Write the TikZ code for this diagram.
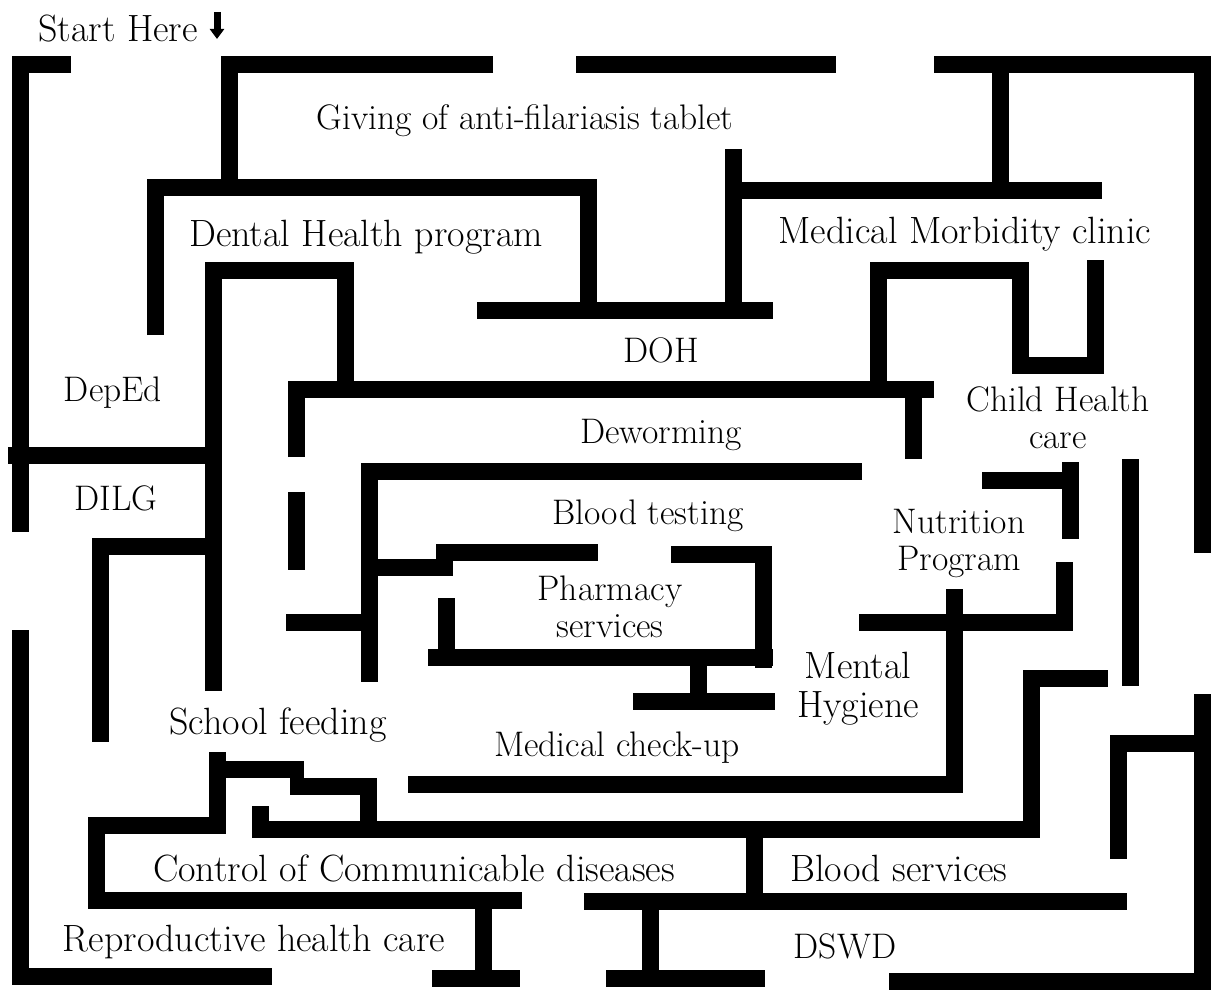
\documentclass[tikz,border=0pt]{standalone}
\usetikzlibrary{arrows.meta}

\begin{document}
\begin{tikzpicture}[x=1pt, y=-1pt,
  wall/.style={line width=17pt, line cap=butt, line join=miter},
  lbl/.style={font=\fontsize{35.5}{37}\selectfont, inner sep=0pt, text height=22pt, text depth=6.5pt, align=center},
  biglbl/.style={lbl, font=\fontsize{38}{39}\selectfont}]

\useasboundingbox (0,0) rectangle (1213,990);

% Start
\node[biglbl] (start) at (118,34) {Start Here};
\coordinate (arrtop) at (217,12);
\coordinate (arrtip) at (217,39);
\draw[line width=7pt, -{Triangle[width=14pt,length=10pt]}] (arrtop) -- (arrtip);

% Labels
\node[lbl] (filaria) at (525,122) {Giving of anti-filariasis tablet};
\node[biglbl] (dental) at (366,239) {Dental Health program};
\node[biglbl] (morbid) at (965,236) {Medical Morbidity clinic};
\node[lbl] (doh) at (661,355) {DOH};
\node[lbl] (deped) at (113,394) {DepEd};
\node[lbl] (child) at (1058,441) {Child Health\\care};
\node[lbl] (deworm) at (661,436) {Deworming};
\node[lbl] (dilg) at (116,503) {DILG};
\node[lbl] (bloodtest) at (648,517) {Blood testing};
\node[lbl] (nutri) at (959,563) {Nutrition\\Program};
\begin{scope}
  \clip (500,560) rectangle (720,637);
  \node[lbl] (pharma) at (610,630) {Pharmacy\\services};
\end{scope}
\node[biglbl] (mental) at (858,710) {Mental\\Hygiene};
\node[biglbl] (feeding) at (278,727) {School feeding};
\node[lbl] (checkup) at (617,749) {Medical check-up};
\node[biglbl] (control) at (414,874) {Control of Communicable diseases};
\node[biglbl] (bloodserv) at (899,874) {Blood services};
\node[biglbl] (repro) at (254,944) {Reproductive health care};
\node[lbl] (dswd) at (845,951) {DSWD};

% Outer walls
\draw[wall] (71,64.5) -- (20,64.5) -- (20,532);
\draw[wall] (493,64.5) -- (229,64.5) -- (229,187);
\draw[wall] (576,64.5) -- (836,64.5);
\draw[wall] (934,64.5) -- (1202,64.5) -- (1202,553);
\draw[wall] (1202,694) -- (1202,981) -- (889,981);
\draw[wall] (20,630) -- (20,976) -- (272,976);

% Upper walls
\draw[wall] (1000,64.5) -- (1000,190);
\draw[wall] (155.5,335) -- (155.5,187) -- (588,187) -- (588,310.5);
\draw[wall] (477,310.5) -- (773,310.5);
\draw[wall] (733,149) -- (733,310.5);
\draw[wall] (733,190) -- (1102,190);
\draw[wall] (878,389) -- (878,270) -- (1020,270) -- (1020,365) -- (1095,365) -- (1095,260);

% Left walls
\draw[wall] (8,455) -- (213,455);
\draw[wall] (213,691) -- (213,270) -- (345.5,270) -- (345.5,389);
\draw[wall] (296.5,457) -- (296.5,389) -- (934,389);
\draw[wall] (913,389) -- (913,459);
\draw[wall] (296.5,492) -- (296.5,570);
\draw[wall] (213,546) -- (100.7,546) -- (100.7,742);

% Inner walls
\draw[wall] (862,471.5) -- (369,471.5) -- (369,682);
\draw[wall] (369,567.5) -- (444.5,567.5) -- (444.5,552.5) -- (598,552.5);
\draw[wall] (286,622) -- (369,622);
\draw[wall] (428,657) -- (773,657);
\draw[wall] (446,598) -- (446,657);
\draw[wall] (671,554.5) -- (763,554.5) -- (763,668);
\draw[wall] (698,657) -- (698,701);
\draw[wall] (633,701) -- (775,701);

% Right walls
\draw[wall] (982,480) -- (1070,480);
\draw[wall] (1070.5,462) -- (1070.5,539);
\draw[wall] (859,622) -- (1064.5,622) -- (1064.5,562);
\draw[wall] (1130,459) -- (1130,686);
\draw[wall] (1202,743) -- (1118.5,743) -- (1118.5,859);
\draw[wall] (408,784.5) -- (954,784.5) -- (954,589);

% Lower walls
\draw[wall] (217,752) -- (217,825) -- (96,825) -- (96,900) -- (522,900);
\draw[wall] (217,769.5) -- (304,769.5);
\draw[wall] (483,900) -- (483,978);
\draw[wall] (432,978) -- (520,978);
\draw[wall] (290,786) -- (368.5,786) -- (368.5,829);
\draw[wall] (260,806) -- (260,829) -- (1031,829) -- (1031,678) -- (1108,678);
\draw[wall] (754,829) -- (754,901);
\draw[wall] (584,901) -- (1127,901);
\draw[wall] (650,901) -- (650,978);
\draw[wall] (606,978) -- (765,978);

\end{tikzpicture}
\end{document}
